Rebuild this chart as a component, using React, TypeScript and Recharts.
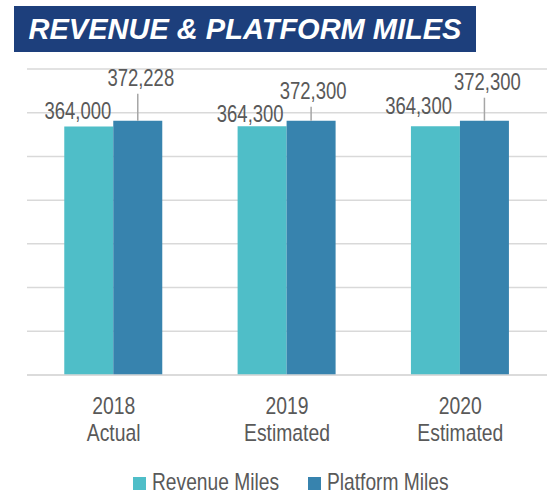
import { Bar, BarChart, CartesianGrid, LabelList, XAxis, YAxis } from "recharts";

const years = ["2018", "2019", "2020"];
const status = ["Actual", "Estimated", "Estimated"];
const revenueMiles = [364000, 364300, 364300];
const platformMiles = [372228, 372300, 372300];
const yTicks = [0, 64000, 128000, 192000, 256000, 320000, 384000, 448000];

const data = years.map((y, i) => ({
  year: y,
  status: status[i],
  revenue: revenueMiles[i],
  platform: platformMiles[i],
}));

// hand-placed label nudges (Excel style), per category
const revOffsets = [
  { dx: -2, dy: -7 },
  { dx: -3, dy: -4 },
  { dx: -8, dy: -12 },
];
const platOffsets = [
  { dx: 3, dy: -35 },
  { dx: 2, dy: -22 },
  { dx: 3, dy: -31 },
];

// no narrow font installed, so squeeze Liberation Sans horizontally
const FONT = "'Liberation Sans', Arial, sans-serif";
const GREY = "#595959";
const TEAL = "#4fbec8";
const BLUE = "#3783ae";

const fmt = (v: number) => v.toLocaleString("en-US");

const box = (p: any) => {
  const vb = p.viewBox ?? p;
  return { x: Number(vb.x), y: Number(vb.y), w: Number(vb.width) };
};

const NarrowText = ({ x, y, anchor, size, squeeze, children }: any) => (
  <g transform={`translate(${x} ${y}) scale(${squeeze} 1)`}>
    <text x={0} y={0} textAnchor={anchor} fill={GREY} fontSize={size} fontFamily={FONT}>
      {children}
    </text>
  </g>
);

const RevenueLabel = (p: any) => {
  const b = box(p);
  const o = revOffsets[p.index] ?? { dx: 0, dy: -6 };
  return (
    <NarrowText x={b.x + b.w + o.dx} y={b.y + o.dy} anchor="end" size={24} squeeze={0.77}>
      {fmt(p.value)}
    </NarrowText>
  );
};

const PlatformLabel = (p: any) => {
  const b = box(p);
  const o = platOffsets[p.index] ?? { dx: 0, dy: -30 };
  const cx = b.x + b.w / 2;
  return (
    <g>
      <line x1={cx} x2={cx} y1={b.y} y2={b.y + o.dy + 8} stroke="#a6a6a6" strokeWidth={1.5} />
      <NarrowText x={cx + o.dx} y={b.y + o.dy} anchor="middle" size={24} squeeze={0.77}>
        {fmt(p.value)}
      </NarrowText>
    </g>
  );
};

const YearTick = (p: any) => {
  const i = p.index ?? years.indexOf(p.payload.value);
  return (
    <g>
      <NarrowText x={p.x} y={p.y + 39} anchor="middle" size={24.5} squeeze={0.79}>
        {p.payload.value}
      </NarrowText>
      <NarrowText x={p.x} y={p.y + 66} anchor="middle" size={24.5} squeeze={0.79}>
        {status[i]}
      </NarrowText>
    </g>
  );
};

const legendItems = [
  { name: "Revenue Miles", color: TEAL, left: 133 },
  { name: "Platform Miles", color: BLUE, left: 308 },
];

export default function App() {
  return (
    <div style={{ position: "absolute", left: 0, top: 0, width: 553, height: 495, background: "#fff" }}>
      <BarChart
        width={553}
        height={495}
        data={data}
        margin={{ top: 69, right: 6, left: 27, bottom: 50 }}
        barCategoryGap="21.5%"
        barGap={0}
      >
        <CartesianGrid vertical={false} stroke="#d9d9d9" strokeWidth={1.5} />
        <YAxis hide domain={[0, 448000]} ticks={yTicks} />
        <XAxis
          dataKey="year"
          height={70}
          axisLine={{ stroke: "#d9d9d9", strokeWidth: 1.5 }}
          tickLine={false}
          tickSize={0}
          tickMargin={0}
          tick={<YearTick />}
          interval={0}
        />
        <Bar dataKey="revenue" fill={TEAL} isAnimationActive={false}>
          <LabelList dataKey="revenue" content={<RevenueLabel />} />
        </Bar>
        <Bar dataKey="platform" fill={BLUE} isAnimationActive={false}>
          <LabelList dataKey="platform" content={<PlatformLabel />} />
        </Bar>
      </BarChart>

      <div
        style={{
          position: "absolute",
          left: 14,
          top: 6,
          width: 462,
          height: 46,
          background: "#1d3f7c",
          color: "#fff",
          fontFamily: FONT,
          fontWeight: 700,
          fontStyle: "italic",
          fontSize: 29,
          lineHeight: "46px",
          textAlign: "center",
          whiteSpace: "nowrap",
        }}
      >
        REVENUE &amp; PLATFORM MILES
      </div>

      {legendItems.map((s) => (
        <div key={s.name}>
          <span
            style={{
              position: "absolute",
              left: s.left,
              top: 477,
              width: 13,
              height: 13,
              background: s.color,
            }}
          />
          <span
            style={{
              position: "absolute",
              left: s.left + 19,
              top: 469,
              fontFamily: FONT,
              fontSize: 24,
              lineHeight: "26px",
              color: GREY,
              whiteSpace: "nowrap",
              transform: "scaleX(0.8)",
              transformOrigin: "left center",
            }}
          >
            {s.name}
          </span>
        </div>
      ))}
    </div>
  );
}
